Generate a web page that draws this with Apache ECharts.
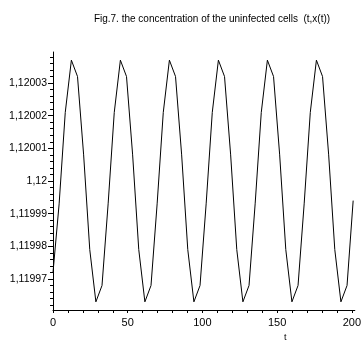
<!DOCTYPE html>
<html>
<head>
<meta charset="utf-8">
<title>Fig.7</title>
<script src="https://cdn.jsdelivr.net/npm/echarts/dist/echarts.min.js"></script>
<style>
  body { margin: 0; background: #fff; }
  #main { width: 364px; height: 342px; }
</style>
</head>
<body>
<div id="main"></div>
<script>
// t samples and x(t) values
var tValues = [0, 4.1, 8.2, 12.3, 16.4, 20.5, 24.6, 28.7, 32.8, 36.9,
  41, 45.1, 49.2, 53.3, 57.4, 61.5, 65.6, 69.7, 73.8, 77.9,
  82, 86.1, 90.2, 94.3, 98.4, 102.5, 106.6, 110.7, 114.8, 118.9,
  123, 127.1, 131.2, 135.3, 139.4, 143.5, 147.6, 151.7, 155.8, 159.9,
  164, 168.1, 172.2, 176.3, 180.4, 184.5, 188.6, 192.7, 196.8, 200.9];
var xValues = [1.119972, 1.119993, 1.120021, 1.120037, 1.120032, 1.120008, 1.119979, 1.119963,
  1.119968, 1.119993, 1.120021, 1.120037, 1.120032, 1.120008, 1.119979, 1.119963,
  1.119968, 1.119993, 1.120021, 1.120037, 1.120032, 1.120008, 1.119979, 1.119963,
  1.119968, 1.119993, 1.120021, 1.120037, 1.120032, 1.120008, 1.119979, 1.119963,
  1.119968, 1.119993, 1.120021, 1.120037, 1.120032, 1.120008, 1.119979, 1.119963,
  1.119968, 1.119993, 1.120021, 1.120037, 1.120032, 1.120008, 1.119979, 1.119963,
  1.119968, 1.119994];
var yTickLabels = [1.11997, 1.11998, 1.11999, 1.12, 1.12001, 1.12002, 1.12003];
var xTickLabels = [0, 50, 100, 150, 200];

var yMin = 1.1199605, yMax = 1.1200395;
var yMinor = [];
for (var k = 0; k <= 40; k++) {
  var v = +(1.11996 + k * 0.000002).toFixed(6);
  if (v > yMin && v < yMax) yMinor.push(v);
}
var xMinor = [];
for (var j = 0; j <= 200; j += 10) xMinor.push(j);

var font = 'Liberation Sans, Arial, sans-serif';
var chart = echarts.init(document.getElementById('main'));
chart.setOption({
  animation: false,
  title: {
    text: 'Fig.7. the concentration of the uninfected cells  (t,x(t))',
    left: 207, top: 9, textAlign: 'center',
    textStyle: { fontFamily: font, fontSize: 10, fontWeight: 'normal', color: '#000' }
  },
  grid: { left: 53, right: 2, top: 52, bottom: 32 },
  xAxis: {
    type: 'value', min: 0, max: 202,
    axisLine: { lineStyle: { color: '#000', width: 1 } },
    axisTick: { customValues: xMinor, length: 3, lineStyle: { color: '#000' } },
    axisLabel: { customValues: xTickLabels, margin: 7, color: '#000', fontFamily: font, fontSize: 11 },
    splitLine: { show: false }
  },
  yAxis: [{
    type: 'value', min: yMin, max: yMax,
    axisLine: { show: true, lineStyle: { color: '#000', width: 1 } },
    axisTick: { show: true, customValues: yTickLabels, length: 5, lineStyle: { color: '#000' } },
    axisLabel: {
      customValues: yTickLabels, margin: 6, color: '#000', fontFamily: font, fontSize: 10.5,
      formatter: function (v) { return String(+v.toFixed(5)).replace('.', ','); }
    },
    splitLine: { show: false }
  }, {
    type: 'value', min: yMin, max: yMax, position: 'left',
    axisLine: { show: false },
    axisTick: { show: true, customValues: yMinor, length: 3, lineStyle: { color: '#000' } },
    axisLabel: { show: false },
    splitLine: { show: false }
  }],
  graphic: [{
    type: 'text', left: 284, top: 333,
    style: { text: 't', font: '9px ' + font, fill: '#000' }
  }],
  series: [{
    type: 'line',
    data: tValues.map(function (t, i) { return [t, xValues[i]]; }),
    showSymbol: false,
    lineStyle: { color: '#000', width: 1 }
  }]
});
</script>
</body>
</html>
